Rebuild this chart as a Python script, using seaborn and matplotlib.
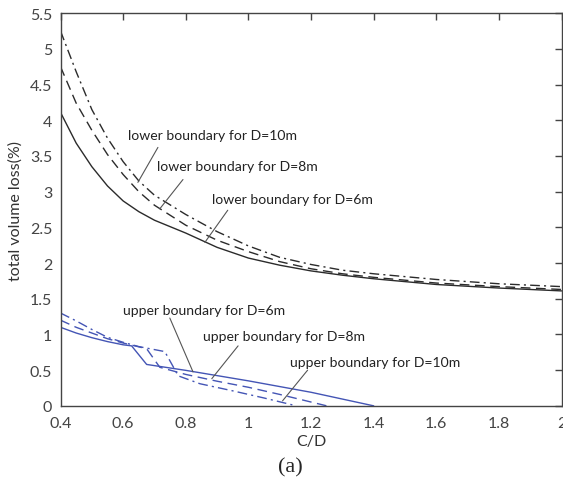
import numpy as np
import pandas as pd
import seaborn as sns
import matplotlib.pyplot as plt
from matplotlib.ticker import FuncFormatter, MultipleLocator

# lower boundary curves (black)
x_low = [0.4, 0.45, 0.5, 0.55, 0.6, 0.65, 0.7, 0.8, 0.9, 1.0, 1.1, 1.2, 1.3, 1.4, 1.6, 1.8, 2.0]
low_6 = [4.11, 3.68, 3.35, 3.08, 2.87, 2.72, 2.60, 2.42, 2.22, 2.07, 1.97, 1.89, 1.83, 1.78, 1.70, 1.65, 1.61]
low_8 = [4.75, 4.24, 3.86, 3.52, 3.24, 3.00, 2.81, 2.53, 2.32, 2.16, 2.02, 1.92, 1.85, 1.80, 1.72, 1.67, 1.63]
low_10 = [5.25, 4.68, 4.15, 3.75, 3.42, 3.15, 2.95, 2.68, 2.44, 2.24, 2.08, 1.98, 1.90, 1.85, 1.77, 1.71, 1.67]

# upper boundary curves (blue)
x_up_6 = [0.4, 0.45, 0.5, 0.55, 0.6, 0.627, 0.675, 0.8, 1.0, 1.2, 1.4]
up_6 = [1.10, 1.02, 0.955, 0.90, 0.855, 0.84, 0.58, 0.497, 0.35, 0.19, 0.0]
x_up_8 = [0.4, 0.45, 0.5, 0.55, 0.6, 0.675, 0.717, 0.8, 0.9, 1.0, 1.1, 1.25]
up_8 = [1.20, 1.10, 1.02, 0.94, 0.88, 0.80, 0.54, 0.44, 0.345, 0.26, 0.16, 0.0]
x_up_10 = [0.4, 0.45, 0.5, 0.55, 0.6, 0.65, 0.733, 0.776, 0.845, 0.95, 1.05, 1.153]
up_10 = [1.30, 1.19, 1.07, 0.96, 0.89, 0.83, 0.76, 0.42, 0.31, 0.21, 0.11, 0.0]

# annotations: text, text position, line start, line end (data coords)
notes = [
    ("lower boundary for D=10m", (0.615, 3.80), (0.711, 3.62), (0.647, 3.13)),
    ("lower boundary for D=8m", (0.708, 3.36), (0.791, 3.17), (0.717, 2.76)),
    ("lower boundary for D=6m", (0.883, 2.90), (0.934, 2.74), (0.861, 2.29)),
    ("upper boundary for D=6m", (0.599, 1.34), (0.749, 1.23), (0.823, 0.476)),
    ("upper boundary for D=8m", (0.855, 0.98), (0.967, 0.84), (0.883, 0.38)),
    ("upper boundary for D=10m", (1.132, 0.615), (1.189, 0.50), (1.109, 0.07)),
]

sns.set_style("white")
plt.rcParams['font.family'] = ['Lato', 'DejaVu Sans']

fig = plt.figure(figsize=(5.63, 4.89), dpi=100)
ax = fig.add_axes([0.1075, 0.168, 0.89, 0.803])

black = '#2b2b2b'
blue = '#4455b5'
sns.lineplot(x=x_low, y=low_6, ax=ax, color=black, lw=1.0, linestyle='-')
sns.lineplot(x=x_low, y=low_8, ax=ax, color=black, lw=1.0, linestyle=(0, (7, 4)))
sns.lineplot(x=x_low, y=low_10, ax=ax, color=black, lw=1.0, linestyle=(0, (7, 3, 1.5, 3)))
sns.lineplot(x=x_up_6, y=up_6, ax=ax, color=blue, lw=1.0, linestyle='-')
sns.lineplot(x=x_up_8, y=up_8, ax=ax, color=blue, lw=1.0, linestyle=(0, (7, 4)))
sns.lineplot(x=x_up_10, y=up_10, ax=ax, color=blue, lw=1.0, linestyle=(0, (7, 3, 1.5, 3)))

for txt, tpos, p0, p1 in notes:
    ax.text(tpos[0], tpos[1], txt, fontsize=10.1, color='#222222', va='center', ha='left')
    ax.plot([p0[0], p1[0]], [p0[1], p1[1]], color='#555555', lw=0.8)

ax.set_xlim(0.4, 2.0)
ax.set_ylim(0, 5.5)
ax.xaxis.set_major_locator(MultipleLocator(0.2))
ax.yaxis.set_major_locator(MultipleLocator(0.5))
fmt = FuncFormatter(lambda v, p: '%g' % round(v, 2))
ax.xaxis.set_major_formatter(fmt)
ax.yaxis.set_major_formatter(fmt)
ax.tick_params(direction='in', length=5, width=1, colors='#444444', labelsize=11.5,
               top=True, right=True, labelcolor='#444444')
ax.tick_params(axis='x', pad=7)
ax.tick_params(axis='y', pad=6)
for s in ax.spines.values():
    s.set_color('#444444')
    s.set_linewidth(1.0)

ax.set_xlabel('C/D', fontsize=11.5, color='#333333', labelpad=3)
ax.set_ylabel('total volume loss(%)', fontsize=11.5, color='#333333', labelpad=5)
fig.text(0.515, 0.043, '(a)', fontsize=16, family='Liberation Serif', ha='center', va='center')

fig.savefig('out.png', dpi=100)
